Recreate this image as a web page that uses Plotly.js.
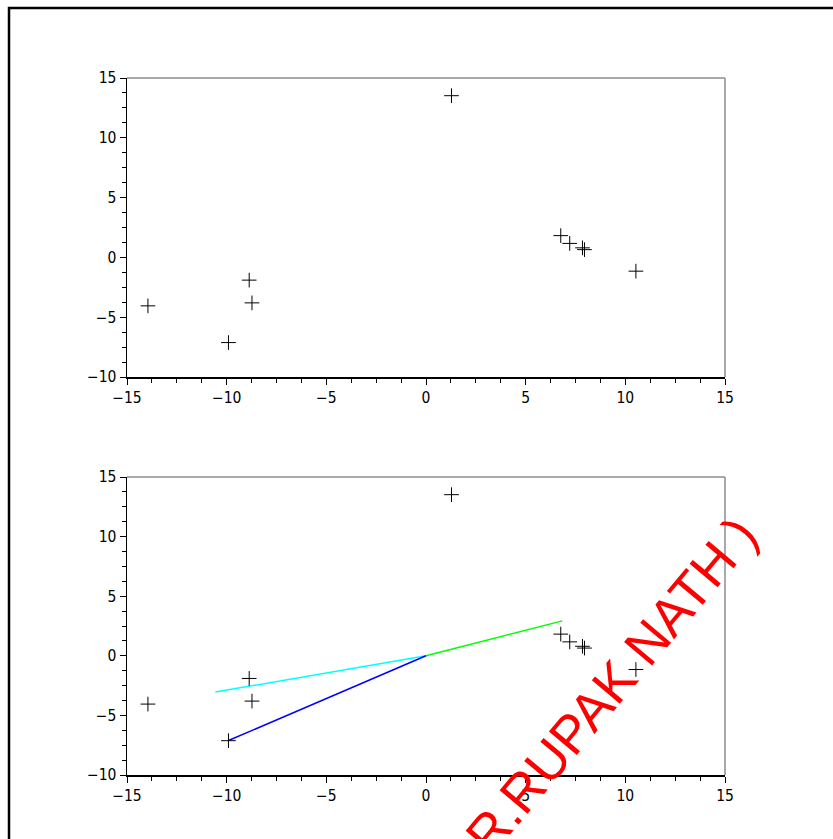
<!DOCTYPE html>
<html>
<head>
<meta charset="utf-8">
<script src="https://cdn.plot.ly/plotly-3.0.1.min.js"></script>
<style>
  html, body { margin: 0; padding: 0; background: #ffffff; }
  #chart { width: 833px; height: 839px; }
</style>
</head>
<body>
<div id="chart"></div>
<script>
// Scatter points (same in both panels)
var pointX = [-13.95, -9.91, -8.87, -8.73, 1.28, 6.76, 7.21, 7.85, 7.95, 10.53];
var pointY = [-4.05, -7.12, -1.90, -3.80, 13.52, 1.82, 1.17, 0.80, 0.65, -1.15];

// Vectors from origin drawn in the lower panel
var cyanX = [0, -10.57];
var cyanY = [0, -3.04];
var blueX = [0, -9.91];
var blueY = [0, -7.11];
var greenX = [0, 6.84];
var greenY = [0, 2.93];

var watermarkText = "(DR.RUPAK NATH )";

var tickFont = { family: "'Liberation Sans Narrow', 'Arial Narrow', 'DejaVu Sans Condensed', sans-serif", size: 15.5, color: "#000000" };

var markerStyle = { symbol: "cross-thin-open", size: 10.5, color: "#000000", line: { color: "#000000", width: 1 } };

var traces = [
  { type: "scatter", mode: "markers", x: pointX, y: pointY, xaxis: "x", yaxis: "y", marker: markerStyle, hoverinfo: "none" },
  { type: "scatter", mode: "lines", x: cyanX, y: cyanY, xaxis: "x2", yaxis: "y2", line: { color: "#00ffff", width: 1.5 }, hoverinfo: "none" },
  { type: "scatter", mode: "lines", x: blueX, y: blueY, xaxis: "x2", yaxis: "y2", line: { color: "#0000ff", width: 1.5 }, hoverinfo: "none" },
  { type: "scatter", mode: "lines", x: greenX, y: greenY, xaxis: "x2", yaxis: "y2", line: { color: "#00ff00", width: 1.5 }, hoverinfo: "none" },
  { type: "scatter", mode: "markers", x: pointX, y: pointY, xaxis: "x2", yaxis: "y2", marker: markerStyle, hoverinfo: "none" }
];

function xAxis(anchor) {
  return {
    domain: [0, 1], anchor: anchor, range: [-15, 15], tick0: -15, dtick: 5,
    ticks: "outside", ticklen: 6, tickwidth: 1, tickcolor: "#000000",
    showline: true, linecolor: "#000000", linewidth: 1.5,
    showgrid: false, zeroline: false, tickfont: tickFont, fixedrange: true,
    minor: { dtick: 1.25, tick0: -15, ticks: "outside", ticklen: 4, tickcolor: "#000000", showgrid: false }
  };
}
function yAxis(anchor, dom) {
  return {
    domain: dom, anchor: anchor, range: [-10, 15], tick0: -10, dtick: 5,
    ticks: "outside", ticklen: 6, tickwidth: 1, tickcolor: "#000000",
    showline: true, linecolor: "#000000", linewidth: 1.5,
    showgrid: false, zeroline: false, tickfont: tickFont, fixedrange: true,
    minor: { dtick: 1.25, tick0: -10, ticks: "outside", ticklen: 4, tickcolor: "#000000", showgrid: false }
  };
}

var topDom = [0.571, 1];
var botDom = [0, 0.4275];

var layout = {
  width: 833, height: 839,
  margin: { l: 127, r: 108, t: 78, b: 64 },
  paper_bgcolor: "#ffffff", plot_bgcolor: "#ffffff",
  showlegend: false,
  xaxis: xAxis("y"),
  yaxis: yAxis("x", topDom),
  xaxis2: xAxis("y2"),
  yaxis2: yAxis("x2", botDom),
  shapes: [
    { type: "line", xref: "paper", yref: "paper", x0: 0, x1: 1, y0: topDom[1], y1: topDom[1], line: { color: "#8c8c8c", width: 1.5 } },
    { type: "line", xref: "paper", yref: "paper", x0: 1, x1: 1, y0: topDom[0], y1: topDom[1], line: { color: "#8c8c8c", width: 1.5 } },
    { type: "line", xref: "paper", yref: "paper", x0: 0, x1: 1, y0: botDom[1], y1: botDom[1], line: { color: "#8c8c8c", width: 1.5 } },
    { type: "line", xref: "paper", yref: "paper", x0: 1, x1: 1, y0: botDom[0], y1: botDom[1], line: { color: "#8c8c8c", width: 1.5 } },
    { type: "rect", xref: "paper", yref: "paper", x0: -0.1973, x1: 1.25, y0: -0.15, y1: 1.1004, line: { color: "#000000", width: 2.5 }, fillcolor: "rgba(0,0,0,0)" }
  ],
  annotations: [
    { xref: "paper", yref: "paper", x: 0.780, y: 0.098, xanchor: "center", yanchor: "middle",
      text: watermarkText, showarrow: false, textangle: -50,
      font: { family: "'Liberation Sans', Arial, sans-serif", size: 53, color: "#ff0000" } }
  ]
};

Plotly.newPlot("chart", traces, layout, { displayModeBar: false, staticPlot: true });
</script>
</body>
</html>
